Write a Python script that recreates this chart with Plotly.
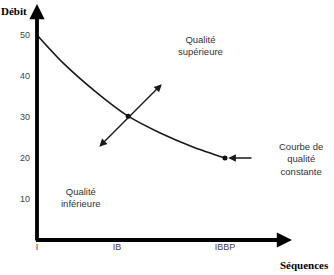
import plotly.graph_objects as go

# Data
seq_labels = ["I", "IB", "IBBP"]
seq_pos = [0, 1, 2.35]
debit_ticks = [10, 20, 30, 40, 50]
curve_x = [0, 0.325, 0.75, 1.14, 1.54, 1.95, 2.35]
curve_y = [50, 43.2, 35.9, 30.2, 26.1, 22.7, 20]
marked_x = [1.14, 2.35]
marked_y = [30.2, 20]
quality_arrow = {"x0": 0.76, "y0": 22.4, "x1": 1.56, "y1": 38.0}
pointer = {"x0": 2.7, "x1": 2.39, "y": 20}

W, H = 334, 275
ml, mb = 37, 35
PW, PH = W - ml, H - mb
xpx, ypx = 80.0, 4.1
xr = [0, PW / xpx]
yr = [0, PH / ypx]


def px(x):
    return (x - ml) / PW


def py(y):
    return (PH - y) / PH


txt_font = dict(family="Liberation Sans, Arial", size=9.5, color="#333")
serif_bold = dict(family="Liberation Serif, Times New Roman", size=11, color="black")

fig = go.Figure()
fig.add_trace(go.Scatter(x=curve_x, y=curve_y, mode="lines",
                         line=dict(color="#1a1a1a", width=1.6, shape="spline", smoothing=0.8),
                         cliponaxis=False, hoverinfo="skip"))
fig.add_trace(go.Scatter(x=marked_x, y=marked_y, mode="markers",
                         marker=dict(color="#111", size=5), cliponaxis=False, hoverinfo="skip"))

ann = []
# axes arrows
ann.append(dict(x=0, y=(PH - 4) / ypx, ax=0, ay=-0.5, xref="x", yref="y", axref="x", ayref="y",
                showarrow=True, arrowhead=2, arrowwidth=3.8, arrowsize=0.8, arrowcolor="black", text=""))
ann.append(dict(x=(292 - ml) / xpx, y=0, ax=-0.03, ay=0, xref="x", yref="y", axref="x", ayref="y",
                showarrow=True, arrowhead=2, arrowwidth=3.8, arrowsize=0.8, arrowcolor="black", text=""))
# double arrow
ann.append(dict(x=quality_arrow["x1"], y=quality_arrow["y1"], ax=quality_arrow["x0"], ay=quality_arrow["y0"],
                xref="x", yref="y", axref="x", ayref="y", showarrow=True, arrowhead=2, arrowside="end+start",
                arrowwidth=1.4, arrowsize=1.1, arrowcolor="#1a1a1a", text=""))
# pointer arrow
ann.append(dict(x=pointer["x1"], y=pointer["y"], ax=pointer["x0"], ay=pointer["y"],
                xref="x", yref="y", axref="x", ayref="y", showarrow=True, arrowhead=2,
                arrowwidth=1.4, arrowsize=1.1, arrowcolor="#1a1a1a", text=""))


def label(xp, yp, text, font, xanchor="center"):
    return dict(x=px(xp), y=py(yp), xref="paper", yref="paper", text=text, showarrow=False,
                font=font, align="center", xanchor=xanchor, yanchor="middle")


ann.append(label(200, 45, "Qualité<br>supérieure", txt_font))
ann.append(label(81, 197, "Qualité<br>inférieure", txt_font))
ann.append(label(301, 159, "Courbe de<br>qualité<br>constante", txt_font))
ann.append(label(-1, 11, "<b>Débit</b>", serif_bold, xanchor="left"))
ann.append(label(304, 265, "<b>Séquences</b>", serif_bold))

fig.update_layout(
    width=W, height=H, margin=dict(l=ml, r=0, t=0, b=mb),
    paper_bgcolor="white", plot_bgcolor="white", showlegend=False,
    annotations=ann,
    xaxis=dict(range=xr, tickvals=seq_pos, ticktext=seq_labels, showgrid=False, zeroline=False,
               showline=False, ticks="", tickfont=dict(family="Liberation Sans, Arial", size=9, color="#444"),
               fixedrange=True),
    yaxis=dict(range=yr, tickvals=debit_ticks, showgrid=False, zeroline=False, showline=False,
               ticks="", ticklabelstandoff=6, tickfont=dict(family="Liberation Sans, Arial", size=9, color="#444"),
               fixedrange=True),
)
fig.write_html("out.html")
